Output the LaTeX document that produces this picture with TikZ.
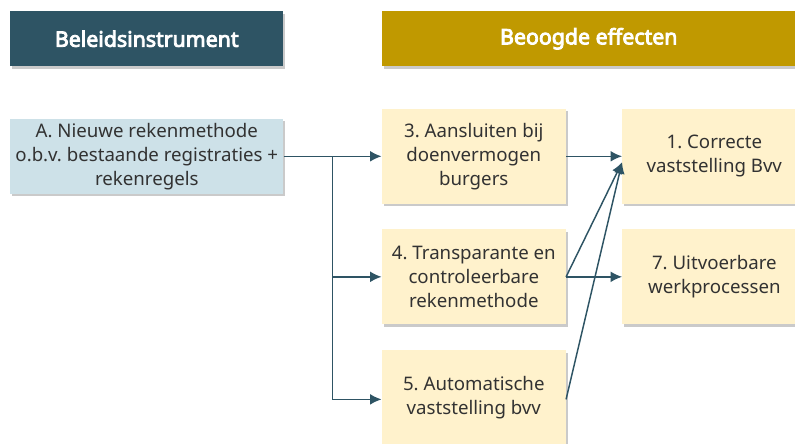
\documentclass[tikz,border=0pt]{standalone}
\usepackage{fontspec}
\setmainfont{Noto Sans}
\newfontfamily\headfont{Noto Sans}[AutoFakeBold=4]
\frenchspacing
\usepackage{tikz}
\usetikzlibrary{shapes,arrows.meta,positioning,shadows}
\definecolor{teal}{RGB}{46, 84, 100}
\definecolor{gold}{RGB}{192, 153, 0}
\definecolor{lblue}{RGB}{205, 225, 232}
\definecolor{lyellow}{RGB}{255, 242, 204}
\definecolor{txt}{RGB}{50, 50, 50}
\tikzstyle{shade} = [drop shadow={shadow xshift=1.5pt, shadow yshift=-2pt, opacity=0.35, fill=black!60}]
\tikzstyle{head} = [rectangle, shade, text=white, font=\headfont\bfseries\fontsize{16}{18}\selectfont, minimum height=41.25pt, inner sep=0pt]
\tikzstyle{instr} = [rectangle, shade, fill=lblue, text=txt, align=center, font=\fontsize{14}{18}\selectfont, minimum width=204.75pt, minimum height=56.25pt, inner sep=0pt]
\tikzstyle{effect} = [rectangle, shade, fill=lyellow, text=txt, align=center, font=\fontsize{14}{18}\selectfont, minimum width=138pt, minimum height=71.25pt, inner sep=0pt]
\tikzstyle{tedge}  = [draw=teal, line width=1.1pt, -{Latex[length=8.5pt, width=8pt]}]

\begin{document}
\begin{tikzpicture}[x=0.75pt, y=-0.75pt]
\useasboundingbox (0,0) rectangle (795,443);

% headers =============================
\node[head, fill=teal, minimum width=204.75pt, anchor=north west] (hinstr) at (10,11) {Beleidsinstrument};
\node[head, fill=gold, minimum width=310.5pt, right=73.5pt of hinstr] (heff) {Beoogde effecten};

% instrument
\node[instr, below=39pt of hinstr] (instrA) {A. Nieuwe rekenmethode\\o.b.v. bestaande registraties +\\rekenregels};

% effects
\node[effect, below right=31.5pt and 0pt of heff.south west] (eff3) {3. Aansluiten bij\\doenvermogen\\burgers};
\node[effect, below=18.75pt of eff3] (eff4) {4. Transparante en\\controleerbare\\rekenmethode};
\node[effect, below=18.75pt of eff4] (eff5) {5. Automatische\\vaststelling bvv};
\node[effect, right=42pt of eff3] (eff1) {1. Correcte\\vaststelling Bvv};
\node[effect, right=42pt of eff4] (eff7) {7. Uitvoerbare\\werkprocessen};

\coordinate (split) at ([xshift=36.75pt]instrA.east);
\coordinate (in1) at ([yshift=-4.5pt]eff1.west);

%edges
\path[tedge] (instrA.east) -- (eff3.west);
\path[tedge] (split) |- (eff4.west);
\path[tedge] (split) |- ([yshift=-1.5pt]eff5.west);

\path[tedge] (eff3.east) -- (eff1.west);
\path[tedge] (eff4.east) -- (in1);
\path[tedge] ([yshift=-1.5pt]eff5.east) -- (in1);
\path[tedge] (eff4.east) -- (eff7.west);

\end{tikzpicture}
\end{document}
